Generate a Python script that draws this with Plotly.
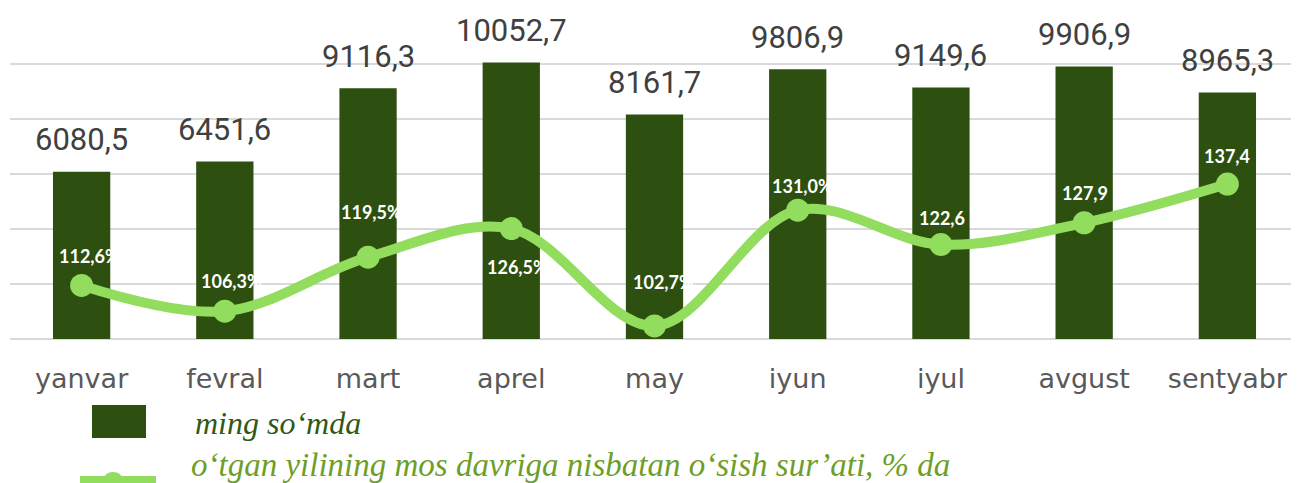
import plotly.graph_objects as go

# ---- data ----
months = ["yanvar", "fevral", "mart", "aprel", "may", "iyun", "iyul", "avgust", "sentyabr"]
values = [6080.5, 6451.6, 9116.3, 10052.7, 8161.7, 9806.9, 9149.6, 9906.9, 8965.3]
value_labels = ["6080,5", "6451,6", "9116,3", "10052,7", "8161,7", "9806,9", "9149,6", "9906,9", "8965,3"]
growth = [112.6, 106.3, 119.5, 126.5, 102.7, 131.0, 122.6, 127.9, 137.4]
growth_labels = ["112,6%", "106,3%", "119,5%", "126,5%", "102,7%", "131,0%", "122,6", "127,9", "137,4"]
legend_bar = "ming so‘mda"
legend_line = "o‘tgan yilining mos davriga nisbatan o‘sish sur’ati, % da"

# ---- style ----
OFF = 8  # default page body margin
W, H = 1299 - OFF, 483 - OFF
PLOT_TOP, PLOT_BOTTOM, PLOT_LEFT = 8, 339, 10   # page pixel positions
ML, MR = PLOT_LEFT - OFF, 0
MT = PLOT_TOP - OFF
MB = H - (PLOT_BOTTOM - OFF)
BAR_COLOR = "#2D5010"
LINE_COLOR = "#92DC5E"
GRID = "#D9D9D9"
growth_dx = [8, 7, 3, 6, 9, 5, 1, 1, 0]
growth_dy = [-29, -30, -45, 38, -44, -24, -27, -30, -28]

pw = W - ML - MR
ph = H - MT - MB


def px(x):
    return (x - OFF - ML) / pw


def py(y):
    return (H - MB - (y - OFF)) / ph


fig = go.Figure()
fig.add_trace(go.Bar(x=months, y=values, marker=dict(color=BAR_COLOR, line=dict(width=0)),
                     showlegend=False, hoverinfo="skip"))
fig.add_trace(go.Scatter(x=months, y=growth, yaxis="y2", mode="lines+markers",
                         line=dict(color=LINE_COLOR, width=10, shape="spline", smoothing=1),
                         marker=dict(color=LINE_COLOR, size=23),
                         showlegend=False, hoverinfo="skip"))

annotations = []
for m, v, t in zip(months, values, value_labels):
    annotations.append(dict(x=m, y=v, xref="x", yref="y", text=t, showarrow=False,
                            yanchor="middle", yshift=32,
                            font=dict(family="Roboto", size=31, color="#404040")))
for m, g, t, dx, dy in zip(months, growth, growth_labels, growth_dx, growth_dy):
    annotations.append(dict(x=m, y=g, xref="x", yref="y2", text="<b>%s</b>" % t, showarrow=False,
                            xanchor="center", yanchor="middle", xshift=dx, yshift=-dy,
                            font=dict(family="Lato", size=18, color="white")))

# custom legend
annotations.append(dict(x=px(193), y=py(423), xref="paper", yref="paper", text="<i>%s</i>" % legend_bar,
                        showarrow=False, xanchor="left", yanchor="middle",
                        font=dict(family="Liberation Serif", size=32, color="#2F5A14")))
annotations.append(dict(x=px(189), y=py(465), xref="paper", yref="paper", text="<i>%s</i>" % legend_line,
                        showarrow=False, xanchor="left", yanchor="middle",
                        font=dict(family="Liberation Serif", size=33, color="#6E9E28")))

shapes = [
    dict(type="rect", xref="paper", yref="paper", x0=px(92), x1=px(146), y0=py(438), y1=py(405),
         fillcolor=BAR_COLOR, line=dict(width=0), layer="above"),
    dict(type="line", xref="paper", yref="paper", x0=px(80), x1=px(156), y0=py(481), y1=py(481),
         line=dict(color=LINE_COLOR, width=10), layer="above"),
    dict(type="circle", xref="paper", yref="paper", x0=px(102), x1=px(124), y0=py(494), y1=py(472),
         fillcolor=LINE_COLOR, line=dict(width=0), layer="above"),
]

fig.update_layout(
    width=W, height=H,
    margin=dict(l=ML, r=MR, t=MT, b=MB, pad=0, autoexpand=False),
    paper_bgcolor="white", plot_bgcolor="white",
    bargap=0.6,
    xaxis=dict(range=[-0.5, len(months) - 0.5], showgrid=False, showline=False, ticks="",
               ticklabelstandoff=21, automargin=False,
               tickfont=dict(family="DejaVu Sans", size=27, color="#595959")),
    yaxis=dict(range=[0, 12036], dtick=2000, showgrid=True, gridcolor=GRID, gridwidth=2,
               zeroline=True, zerolinecolor=GRID, zerolinewidth=2, showticklabels=False, ticks="",
               automargin=False),
    yaxis2=dict(range=[99.5, 180.45], overlaying="y", side="right", visible=False, showgrid=False),
    annotations=annotations,
    shapes=shapes,
)

fig.write_html("out.html")
